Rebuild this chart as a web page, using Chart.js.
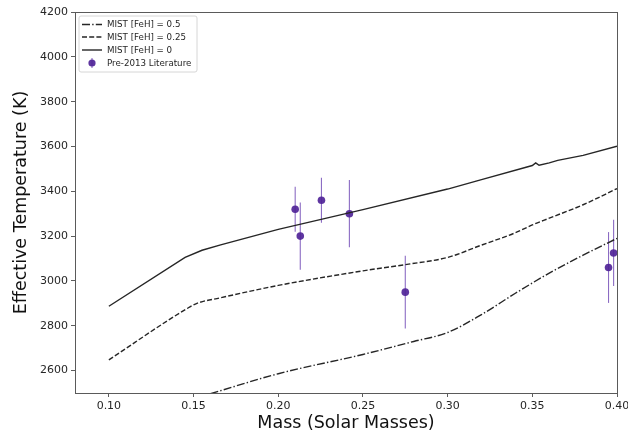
<!DOCTYPE html>
<html>
<head>
<meta charset="utf-8">
<script src="https://cdn.jsdelivr.net/npm/chart.js@4/dist/chart.umd.min.js"></script>
<style>
  html, body { margin: 0; padding: 0; background: #ffffff; }
  #wrap { width: 628px; height: 432px; }
</style>
</head>
<body>
<div id="wrap"><canvas id="c" width="628" height="432"></canvas></div>
<script>
// ---- Data ----
const xTicks = [0.10, 0.15, 0.20, 0.25, 0.30, 0.35, 0.40];
const yTicks = [2600, 2800, 3000, 3200, 3400, 3600, 3800, 4000, 4200];

const feh05Mass = [0.16, 0.20, 0.25, 0.28, 0.30, 0.32, 0.34, 0.36, 0.38, 0.40];
const feh05Teff = [2497, 2586, 2672, 2730, 2770, 2850, 2945, 3035, 3115, 3190];

const feh025Mass = [0.10, 0.146, 0.152, 0.166, 0.20, 0.25, 0.276, 0.30, 0.32, 0.34, 0.35, 0.36, 0.38, 0.40];
const feh025Teff = [2648, 2876, 2900, 2925, 2980, 3045, 3074, 3105, 3160, 3215, 3250, 3280, 3340, 3412];

const feh0Mass = [0.10, 0.145, 0.155, 0.166, 0.20, 0.25, 0.30, 0.32, 0.35, 0.352, 0.354, 0.36, 0.365, 0.38, 0.40];
const feh0Teff = [2887, 3105, 3137, 3161, 3230, 3318, 3410, 3452, 3515, 3527, 3516, 3527, 3538, 3560, 3601];

const litMass = [0.210, 0.213, 0.2255, 0.242, 0.275, 0.395, 0.398];
const litTeff = [3320, 3200, 3360, 3300, 2950, 3060, 3125];
const litErr  = [100, 150, 100, 150, 162, 158, 148];

const seriesNames = ['MIST [FeH] = 0.5', 'MIST [FeH] = 0.25', 'MIST [FeH] = 0', 'Pre-2013 Literature'];

const toXY = (xs, ys) => xs.map((x, i) => ({x: x, y: ys[i]}));

const lineColor = '#262626';
const pointColor = 'rgba(80, 36, 152, 0.92)';
const errColor = 'rgba(110, 70, 180, 0.8)';

const FONT = "'DejaVu Sans', sans-serif";

// Error bars drawn through the scales
const errorBars = {
  id: 'errorBars',
  beforeDatasetsDraw(chart) {
    const {ctx, chartArea, scales: {x, y}} = chart;
    ctx.save();
    ctx.beginPath();
    ctx.rect(chartArea.left, chartArea.top, chartArea.right - chartArea.left, chartArea.bottom - chartArea.top);
    ctx.clip();
    ctx.strokeStyle = errColor;
    ctx.lineWidth = 1.1;
    litMass.forEach((m, i) => {
      const px = x.getPixelForValue(m);
      const y1 = y.getPixelForValue(litTeff[i] - litErr[i]);
      const y2 = y.getPixelForValue(litTeff[i] + litErr[i]);
      ctx.beginPath();
      ctx.moveTo(px, y1);
      ctx.lineTo(px, y2);
      ctx.stroke();
    });
    ctx.restore();
  }
};

// Frame (all four spines)
const frame = {
  id: 'frame',
  afterDraw(chart) {
    const {ctx, chartArea: a} = chart;
    ctx.save();
    ctx.strokeStyle = '#5a5a5a';
    ctx.lineWidth = 1;
    ctx.strokeRect(Math.round(a.left) + 0.5, Math.round(a.top) + 0.5,
                   Math.round(a.right - a.left), Math.round(a.bottom - a.top));
    ctx.restore();
  }
};

// Matplotlib-style legend inside the axes
const innerLegend = {
  id: 'innerLegend',
  afterDraw(chart) {
    const {ctx, chartArea: a} = chart;
    const bx = a.left + 4, by = a.top + 4, bw = 118, bh = 56;
    ctx.save();
    ctx.fillStyle = 'rgba(255,255,255,0.85)';
    ctx.strokeStyle = '#d6d6d6';
    ctx.lineWidth = 1;
    const r = 2;
    ctx.beginPath();
    ctx.moveTo(bx + r, by);
    ctx.lineTo(bx + bw - r, by);
    ctx.arcTo(bx + bw, by, bx + bw, by + r, r);
    ctx.lineTo(bx + bw, by + bh - r);
    ctx.arcTo(bx + bw, by + bh, bx + bw - r, by + bh, r);
    ctx.lineTo(bx + r, by + bh);
    ctx.arcTo(bx, by + bh, bx, by + bh - r, r);
    ctx.lineTo(bx, by + r);
    ctx.arcTo(bx, by, bx + r, by, r);
    ctx.closePath();
    ctx.fill();
    ctx.stroke();

    const rowsY = [by + 8.5, by + 21, by + 34, by + 47];
    const x0 = bx + 3, x1 = bx + 23;
    chart.data.datasets.forEach((ds, i) => {
      const yy = rowsY[i];
      if (i < 3) {
        ctx.strokeStyle = ds.borderColor;
        ctx.lineWidth = ds.borderWidth;
        ctx.setLineDash(ds.borderDash || []);
        ctx.beginPath();
        ctx.moveTo(x0, yy);
        ctx.lineTo(x1, yy);
        ctx.stroke();
        ctx.setLineDash([]);
      } else {
        const cx = (x0 + x1) / 2;
        ctx.strokeStyle = errColor;
        ctx.lineWidth = 1.1;
        ctx.beginPath();
        ctx.moveTo(cx, yy - 5);
        ctx.lineTo(cx, yy + 5);
        ctx.stroke();
        ctx.fillStyle = pointColor;
        ctx.beginPath();
        ctx.arc(cx, yy, 3.6, 0, Math.PI * 2);
        ctx.fill();
      }
      ctx.fillStyle = '#262626';
      ctx.font = '8.7px ' + FONT;
      ctx.textBaseline = 'middle';
      ctx.textAlign = 'left';
      ctx.fillText(ds.label, bx + 28, yy + 0.5);
    });
    ctx.restore();
  }
};

const data = {
  datasets: [
    {
      label: seriesNames[0],
      data: toXY(feh05Mass, feh05Teff),
      showLine: true, pointRadius: 0, borderColor: lineColor, borderWidth: 1.4,
      borderDash: [8, 2.2, 1.4, 2.2], cubicInterpolationMode: 'monotone'
    },
    {
      label: seriesNames[1],
      data: toXY(feh025Mass, feh025Teff),
      showLine: true, pointRadius: 0, borderColor: lineColor, borderWidth: 1.4,
      borderDash: [5, 2.2], cubicInterpolationMode: 'monotone'
    },
    {
      label: seriesNames[2],
      data: toXY(feh0Mass, feh0Teff),
      showLine: true, pointRadius: 0, borderColor: lineColor, borderWidth: 1.4
    },
    {
      label: seriesNames[3],
      data: toXY(litMass, litTeff),
      showLine: false, pointRadius: 3.8, pointHoverRadius: 3.8,
      pointBackgroundColor: pointColor, pointBorderColor: pointColor, pointBorderWidth: 0
    }
  ]
};

new Chart(document.getElementById('c'), {
  type: 'scatter',
  data: data,
  plugins: [errorBars, frame, innerLegend],
  options: {
    responsive: false,
    animation: false,
    devicePixelRatio: 1,
    layout: { padding: { left: 0, right: 11, top: 12, bottom: 0 } },
    plugins: { legend: { display: false }, tooltip: { enabled: false } },
    scales: {
      x: {
        type: 'linear',
        min: 0.08, max: 0.40,
        afterBuildTicks(scale) { scale.ticks = xTicks.map(v => ({value: v})); },
        afterFit(scale) { scale.height = 39; scale.paddingLeft = 0; scale.paddingRight = 0; },
        grid: { drawOnChartArea: false, drawTicks: true, tickLength: 4, color: '#333', lineWidth: 0.8 },
        border: { display: false },
        ticks: {
          color: '#262626', font: { family: FONT, size: 11 }, padding: 3, maxRotation: 0,
          autoSkip: false,
          callback: (v) => Number(v).toFixed(2)
        },
        title: {
          display: true, text: 'Mass (Solar Masses)', color: '#111',
          font: { family: FONT, size: 17.5 }, padding: { top: 0, bottom: -2 }
        }
      },
      y: {
        type: 'linear',
        min: 2500, max: 4200,
        afterBuildTicks(scale) { scale.ticks = yTicks.map(v => ({value: v})); },
        afterFit(scale) { scale.width = 75; scale.paddingTop = 0; scale.paddingBottom = 0; },
        grid: { drawOnChartArea: false, drawTicks: true, tickLength: 4, color: '#333', lineWidth: 0.8 },
        border: { display: false },
        ticks: {
          color: '#262626', font: { family: FONT, size: 11 }, padding: 3, autoSkip: false,
          callback: (v) => String(v)
        },
        title: {
          display: true, text: 'Effective Temperature (K)', color: '#111',
          font: { family: FONT, size: 17.5 }, padding: { top: 11, bottom: 0 }
        }
      }
    }
  }
});
</script>
</body>
</html>
